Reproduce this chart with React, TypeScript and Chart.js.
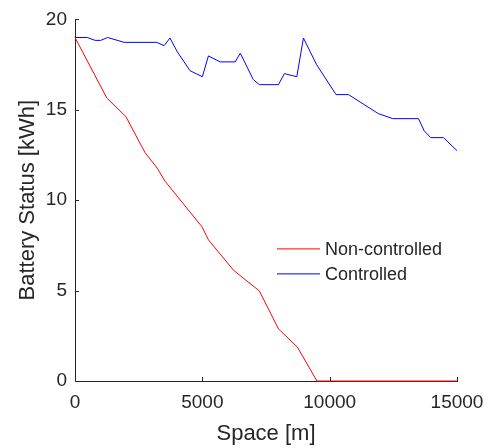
import React, { useEffect, useRef } from "react";
import { Chart, registerables } from "chart.js";

Chart.register(...registerables);

const controlledX = [0, 480, 790, 1010, 1280, 1570, 1930, 3210, 3500, 3730, 4020, 4520, 5000, 5240, 5700, 6290, 6490, 7000, 7240, 7990, 8220, 8710, 8970, 9490, 10250, 10740, 11910, 12480, 13490, 13710, 13970, 14470, 15000];
const controlledY = [19.0, 19.0, 18.84, 18.84, 19.0, 18.88, 18.73, 18.73, 18.55, 18.97, 18.2, 17.16, 16.83, 17.98, 17.65, 17.65, 18.13, 16.67, 16.39, 16.39, 17.0, 16.83, 18.97, 17.49, 15.84, 15.84, 14.79, 14.51, 14.51, 13.84, 13.46, 13.46, 12.74];

const nonControlledX = [0, 1250, 2000, 2750, 3230, 3530, 4980, 5240, 6220, 7240, 7990, 8730, 9500, 15000];
const nonControlledY = [19.0, 15.65, 14.62, 12.63, 11.77, 11.06, 8.54, 7.81, 6.13, 4.98, 2.88, 1.88, 0, 0];

const seriesLabels = ["Non-controlled", "Controlled"];
const xTitle = "Space [m]";
const yTitle = "Battery Status [kWh]";

const FONT = "'Liberation Sans', Arial, sans-serif";
const TEXT = "#262626";
const RED = "#ff0000";
const BLUE = "#0000ff";

const inwardTicks = {
  id: "inwardTicks",
  afterDraw(chart: any) {
    const ctx = chart.ctx;
    const { left, bottom } = chart.chartArea;
    ctx.save();
    ctx.strokeStyle = TEXT;
    ctx.lineWidth = 1;
    const xs = chart.scales.x;
    xs.ticks.forEach((t: any) => {
      const px = Math.round(xs.getPixelForValue(t.value)) + 0.5;
      ctx.beginPath();
      ctx.moveTo(px, bottom);
      ctx.lineTo(px, bottom - 4);
      ctx.stroke();
    });
    const ys = chart.scales.y;
    ys.ticks.forEach((t: any) => {
      const py = Math.round(ys.getPixelForValue(t.value)) + 0.5;
      ctx.beginPath();
      ctx.moveTo(left, py);
      ctx.lineTo(left + 4, py);
      ctx.stroke();
    });
    ctx.restore();
  },
};

const innerLegend = {
  id: "innerLegend",
  afterDraw(chart: any) {
    const ctx = chart.ctx;
    const { left, top } = chart.chartArea;
    const colors = [RED, BLUE];
    ctx.save();
    ctx.font = `18px ${FONT}`;
    ctx.textBaseline = "middle";
    ctx.textAlign = "left";
    seriesLabels.forEach((lab, i) => {
      const y = top + 229 + i * 25 + 0.5;
      ctx.strokeStyle = colors[i];
      ctx.lineWidth = 1;
      ctx.beginPath();
      ctx.moveTo(left + 202, y);
      ctx.lineTo(left + 245, y);
      ctx.stroke();
      ctx.fillStyle = TEXT;
      ctx.fillText(lab, left + 250, y + 1);
    });
    ctx.restore();
  },
};

export default function App() {
  const ref = useRef<HTMLCanvasElement>(null);
  useEffect(() => {
    if (!ref.current) return;
    const chart = new Chart(ref.current, {
      type: "line",
      data: {
        datasets: [
          {
            label: seriesLabels[0],
            data: nonControlledX.map((x, i) => ({ x, y: nonControlledY[i] })),
            borderColor: RED,
            borderWidth: 1,
            pointRadius: 0,
            tension: 0,
            clip: false as any,
          },
          {
            label: seriesLabels[1],
            data: controlledX.map((x, i) => ({ x, y: controlledY[i] })),
            borderColor: BLUE,
            borderWidth: 1,
            pointRadius: 0,
            tension: 0,
            clip: false as any,
          },
        ],
      },
      options: {
        animation: false,
        responsive: true,
        maintainAspectRatio: false,
        layout: { padding: { left: 0, top: 16, right: 43, bottom: 0 } },
        plugins: { legend: { display: false }, tooltip: { enabled: false } },
        scales: {
          x: {
            type: "linear",
            min: 0,
            max: 15000,
            afterFit: (s: any) => { s.height = 67; },
            grid: { display: false, drawTicks: false },
            border: { display: true, color: TEXT, width: 1 },
            ticks: {
              stepSize: 5000,
              padding: 10,
              color: TEXT,
              font: { family: FONT, size: 19 },
              maxRotation: 0,
              callback: (v: any) => String(v),
            },
            title: {
              display: true,
              text: xTitle,
              color: TEXT,
              font: { family: FONT, size: 22 },
              padding: { top: 0, bottom: 1 },
            },
          },
          y: {
            type: "linear",
            min: 0,
            max: 20,
            afterFit: (s: any) => { s.width = 75; },
            grid: { display: false, drawTicks: false },
            border: { display: true, color: TEXT, width: 1 },
            ticks: {
              stepSize: 5,
              padding: 8,
              color: TEXT,
              font: { family: FONT, size: 19 },
            },
            title: {
              display: true,
              text: yTitle,
              color: TEXT,
              font: { family: FONT, size: 22 },
              padding: { top: 15, bottom: 0 },
            },
          },
        },
      },
      plugins: [inwardTicks, innerLegend],
    });
    return () => chart.destroy();
  }, []);
  return (
    <div style={{ position: "absolute", left: 0, top: 0, width: 500, height: 448, background: "#fff" }}>
      <canvas ref={ref} />
    </div>
  );
}
